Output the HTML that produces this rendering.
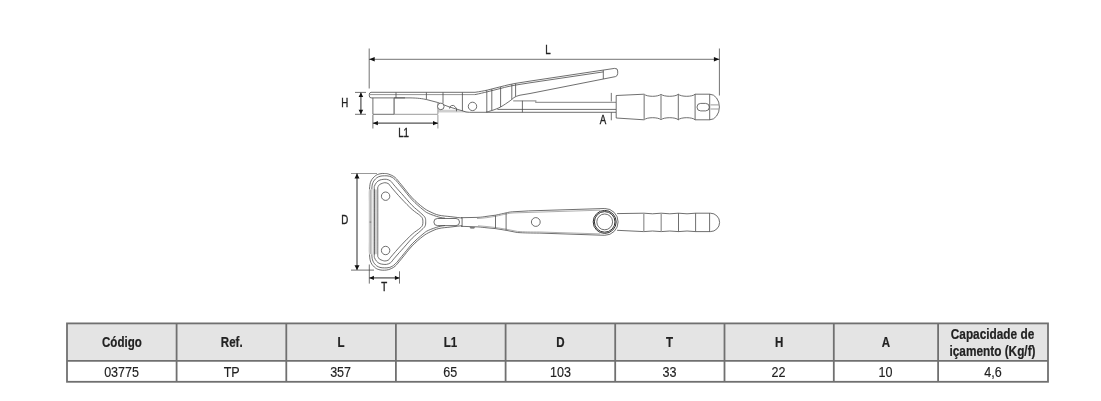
<!DOCTYPE html>
<html><head><meta charset="utf-8">
<style>
html,body{margin:0;padding:0;background:#fff;}
body{width:1101px;height:401px;overflow:hidden;font-family:"Liberation Sans",sans-serif;}
svg{display:block;filter:grayscale(1);}
text{font-family:"Liberation Sans",sans-serif;fill:#222;}
.h{font-weight:bold;font-size:14px;stroke:#222;stroke-width:0.2;}
.d{font-size:14.2px;stroke:#222;stroke-width:0.15;}
.lb{font-size:12px;fill:#222;stroke:#222;stroke-width:0.35;}
.ln{fill:none;stroke:#4a4a4a;stroke-width:0.8;}
.lg{fill:none;stroke:#9a9a9a;stroke-width:1;}
.dm{fill:none;stroke:#444;stroke-width:0.75;}
.dt{fill:none;stroke:#555;stroke-width:1.25;}
.ar{fill:#111;stroke:none;}
</style></head><body>
<svg width="1101" height="401" viewBox="0 0 1101 401">
<rect width="1101" height="401" fill="#fff"/>

<!-- ===== TABLE ===== -->
<g id="table">
<rect x="67" y="323.5" width="981" height="37.5" fill="#e3e4e4"/>
<g stroke="#6f7073" stroke-width="1.8" fill="none">
<rect x="67" y="323.4" width="981" height="58.4"/>
<line x1="67" y1="360.9" x2="1048" y2="360.9"/>
<line x1="176.6" y1="323.4" x2="176.6" y2="381.8"/>
<line x1="286.3" y1="323.4" x2="286.3" y2="381.8"/>
<line x1="395.9" y1="323.4" x2="395.9" y2="381.8"/>
<line x1="505.6" y1="323.4" x2="505.6" y2="381.8"/>
<line x1="615.2" y1="323.4" x2="615.2" y2="381.8"/>
<line x1="724.5" y1="323.4" x2="724.5" y2="381.8"/>
<line x1="833.8" y1="323.4" x2="833.8" y2="381.8"/>
<line x1="938.1" y1="323.4" x2="938.1" y2="381.8"/>
</g>
<g class="h" text-anchor="middle" opacity="0.999">
<text transform="translate(121.9,346.8) scale(0.825,1)">Código</text>
<text transform="translate(231.7,346.8) scale(0.825,1)">Ref.</text>
<text transform="translate(341.1,346.8) scale(0.825,1)">L</text>
<text transform="translate(450.4,346.8) scale(0.825,1)">L1</text>
<text transform="translate(560.4,346.8) scale(0.825,1)">D</text>
<text transform="translate(669.5,346.8) scale(0.825,1)">T</text>
<text transform="translate(779.1,346.8) scale(0.825,1)">H</text>
<text transform="translate(886,346.8) scale(0.825,1)">A</text>
<text transform="translate(992.5,339.1) scale(0.845,1)">Capacidade de</text>
<text transform="translate(992.5,355.5) scale(0.845,1)">içamento (Kg/f)</text>
</g>
<g class="d" text-anchor="middle" opacity="0.999">
<text transform="translate(121.6,376.9) scale(0.885,1)">03775</text>
<text transform="translate(231.7,376.9) scale(0.885,1)">TP</text>
<text transform="translate(340.6,376.9) scale(0.885,1)">357</text>
<text transform="translate(450.2,376.9) scale(0.885,1)">65</text>
<text transform="translate(560.4,376.9) scale(0.885,1)">103</text>
<text transform="translate(669.5,376.9) scale(0.885,1)">33</text>
<text transform="translate(778.5,376.9) scale(0.885,1)">22</text>
<text transform="translate(885.5,376.9) scale(0.885,1)">10</text>
<text transform="translate(993,376.9) scale(0.885,1)">4,6</text>
</g>
</g>

<!-- ===== TOP DRAWING (side view) ===== -->
<g id="side">
<!-- dimension L -->
<line class="dm" x1="369.2" y1="48.5" x2="369.2" y2="88.5"/>
<line class="dm" x1="719.4" y1="48.5" x2="719.4" y2="95.5"/>
<line class="dm" x1="369.2" y1="59.3" x2="719.4" y2="59.3"/>
<path class="ar" d="M369.2 59.3 l5.5 -2.3 v4.6z M719.4 59.3 l-5.5 -2.3 v4.6z"/>
<text class="lb" transform="translate(548,53.5) scale(0.81,1)" text-anchor="middle">L</text>
<!-- dimension H -->
<line class="dm" x1="355" y1="92.4" x2="366" y2="92.4"/>
<line class="dm" x1="355" y1="114.3" x2="366" y2="114.3"/>
<line class="dt" x1="360.9" y1="92.4" x2="360.9" y2="114.3"/>
<path class="ar" d="M360.9 92.6 l-2.3 4.4 h4.6z M360.9 114.2 l-2.3 -4.4 h4.6z"/>
<text class="lb" transform="translate(344.8,107.4) scale(0.81,1)" text-anchor="middle">H</text>
<!-- dimension L1 -->
<line class="dm" x1="372.9" y1="115" x2="372.9" y2="128.5"/>
<line class="lg" x1="437.9" y1="115" x2="437.9" y2="128.5"/>
<line class="dt" x1="372.9" y1="123.2" x2="437.9" y2="123.2"/>
<path class="ar" d="M372.9 123.2 l5 -2.1 v4.2z M438 123.2 l-5 -2.1 v4.2z"/>
<text class="lb" transform="translate(403.6,137.3) scale(0.81,1)" text-anchor="middle">L1</text>
<!-- A -->
<line class="dm" x1="611.3" y1="92.9" x2="611.3" y2="101.5"/>
<line class="dm" x1="611.3" y1="112.3" x2="611.3" y2="120.3"/>
<text class="lb" transform="translate(603.1,123.8) scale(0.81,1)" text-anchor="middle">A</text>

<!-- top plate -->
<path d="M438 109.7 H456 L462.6 111 L470 112.4 H438 Z" fill="#cfcfcf" stroke="none"/>
<path class="ln" d="M475 92.3 H371 Q369.2 92.4 369.2 95 Q369.2 97.9 371 97.9 H405"/>
<path class="ln" d="M370 94.6 H475" style="stroke:#666;stroke-width:0.7"/>
<line class="ln" x1="396" y1="92.4" x2="396" y2="97.9"/>
<line class="ln" x1="426.4" y1="92.4" x2="426.4" y2="99.3"/>
<line class="ln" x1="443" y1="92.4" x2="443" y2="103.5"/>
<line class="ln" x1="462.4" y1="92.4" x2="462.4" y2="111"/>
<!-- lower box -->
<path class="ln" d="M372.9 97.9 V114.3 H394.1"/><path class="lg" d="M394.1 114.3 H437.9 V102.5"/>
<line class="lg" x1="394.1" y1="97.9" x2="394.1" y2="114.3" style="stroke:#777;stroke-width:1.3"/>
<!-- lower contour curve of lever base -->
<path class="ln" d="M394.1 97.9 H410 C418 98 422 98.6 426.7 99.6 L437.4 102.4 L449.2 106.9 L462.6 110.9 C465 111.8 467 112.3 469.4 112.3 H616"/>
<!-- small circles -->
<circle class="ln" cx="440.8" cy="106.4" r="3.3" fill="#fff" style="fill:#fff"/>
<path class="ln" d="M449.6 108.6 A3 3 0 0 1 455 106.6 L456.5 108.5 V111.3"/>
<circle class="ln" cx="472.5" cy="106.4" r="4.2"/>
<!-- lever -->
<path class="ln" d="M475 92.3 C480 91.6 483 91 487.3 90.1 L500.8 86.7 C506 85.3 510 84.4 515.4 83.4 L530 81.1 L614.5 68.4 Q617.9 68.2 617.7 71 V73.5 Q617.6 76 615.5 76.6 L530 93.5 L520 95.2 C514 96.7 513 98.5 510.9 100.2 C507 103 504 105 500.8 106.9 C497 108.8 495 109.5 491.8 110.5 C489 111.4 488 111.7 486.2 112.1"/>
<path class="ln" d="M475 94.6 C480 93.6 483 92.8 487.3 91.8 L500.8 88.4 C506 87 510 86.1 515.4 85.1 L530 82.8 L603.3 71.9"/>
<line class="ln" x1="486.8" y1="90.2" x2="486.8" y2="112"/>
<line class="ln" x1="491.8" y1="89" x2="491.8" y2="110.5"/>
<line class="ln" x1="500.6" y1="86.8" x2="500.6" y2="107"/>
<line class="ln" x1="511.8" y1="84.1" x2="511.8" y2="99.5"/>
<line class="ln" x1="515.6" y1="83.4" x2="515.6" y2="96.5"/>
<line class="ln" x1="603.3" y1="70.2" x2="603.3" y2="79"/>
<!-- rod -->
<line class="ln" x1="497.4" y1="109.4" x2="616" y2="109.4"/>
<path class="lg" d="M513.2 100.8 H535.8 V102.3 H616" style="stroke-width:1.2"/>
<line class="ln" x1="522.4" y1="100.8" x2="522.4" y2="112.3"/>
<!-- grip -->
<path class="ln" d="M616.2 95.5 L644.2 94.2 C646.7 97 658.5 97 661 94.2 C663.5 97 675.8 97 678.3 94.2 C680.8 97 692.6 97 695.1 94.2 H709.7 A9.7 12.8 0 0 1 709.7 119.8 H695.1 C692.6 117 680.8 117 678.3 119.8 C675.8 117 663.5 117 661 119.8 C658.5 117 646.7 117 644.2 119.8 L616.2 118 Z"/>
<line class="lg" x1="644.2" y1="94.2" x2="644.2" y2="119.8" style="stroke-width:1.4"/>
<line class="lg" x1="661" y1="94.2" x2="661" y2="119.8" style="stroke-width:1.4"/>
<line class="ln" x1="678.3" y1="94.2" x2="678.3" y2="119.8"/>
<line class="ln" x1="695.1" y1="94.2" x2="695.1" y2="119.8"/>
<line class="ln" x1="709.7" y1="94.2" x2="709.7" y2="119.8"/>
<rect class="ln" x="697" y="103.4" width="12.3" height="7.5" rx="3.7"/>
<line class="lg" x1="710.5" y1="104.9" x2="719" y2="104.9"/>
<line class="lg" x1="710.5" y1="109" x2="719" y2="109"/>
</g>

<!-- ===== BOTTOM DRAWING (top view) ===== -->
<g id="plan">
<!-- D -->
<line class="dm" x1="351" y1="173.5" x2="377" y2="173.5" style="stroke:#777"/>
<line class="dm" x1="351" y1="270.1" x2="374" y2="270.1"/>
<line class="dt" x1="357" y1="173.3" x2="357" y2="270"/>
<path class="ar" d="M357 173.6 l-2.5 4.8 h5z M357 270.1 l-2.5 -4.8 h5z"/>
<text class="lb" transform="translate(344.8,224.3) scale(0.81,1)" text-anchor="middle">D</text>
<!-- T -->
<line class="dm" x1="369.3" y1="264.5" x2="369.3" y2="283.6"/>
<line class="dm" x1="399.5" y1="271.3" x2="399.5" y2="283.6"/>
<line class="dt" x1="369.2" y1="277.9" x2="399.5" y2="277.9"/>
<path class="ar" d="M369.3 277.9 l4.6 -2.2 v4.4z M399.5 277.9 l-4.6 -2.2 v4.4z"/>
<text class="lb" transform="translate(384.2,291) scale(0.81,1)" text-anchor="middle">T</text>

<!-- head outer -->
<path class="ln" d="M462.0 218.0 C460.1 217.8 454.8 217.2 450.9 216.7 C447.0 216.2 442.4 216.0 438.9 215.2 C435.4 214.4 432.7 213.0 430.0 211.7 C427.3 210.4 425.9 209.7 422.9 207.4 C419.9 205.1 415.8 201.6 412.2 197.8 C408.6 194.1 404.4 188.3 401.5 184.9 C398.6 181.5 397.1 179.2 395.0 177.4 C392.9 175.6 390.4 174.8 388.6 174.1 C386.8 173.4 385.8 173.6 384.4 173.5 C383.0 173.4 381.5 173.4 380.0 173.8 C378.5 174.2 377.0 174.5 375.5 175.7 C374.0 176.9 372.0 178.8 371.0 181.0 C370.0 183.2 369.8 185.2 369.5 189.2 C369.2 193.2 369.4 196.8 369.4 205.0 C369.4 213.2 369.4 230.4 369.4 238.7 C369.4 246.9 369.2 250.5 369.5 254.5 C369.8 258.5 370.0 260.4 371.0 262.7 C372.0 264.9 374.0 266.8 375.5 268.0 C377.0 269.2 378.5 269.5 380.0 269.9 C381.5 270.3 383.0 270.2 384.4 270.2 C385.8 270.1 386.8 270.2 388.6 269.6 C390.4 269.0 392.9 268.1 395.0 266.3 C397.1 264.5 398.6 262.2 401.5 258.8 C404.4 255.4 408.6 249.6 412.2 245.9 C415.8 242.1 419.9 238.6 422.9 236.3 C425.9 234.0 427.3 233.3 430.0 232.0 C432.7 230.7 435.4 229.3 438.9 228.5 C442.4 227.7 447.0 227.5 450.9 227.0 C454.8 226.5 460.1 225.9 462.0 225.7"/>
<path class="ln" d="M445.0 218.2 C444.0 218.0 441.7 217.9 438.9 217.1 C436.1 216.3 431.0 214.6 428.3 213.3 C425.6 212.1 425.6 211.8 422.9 209.6 C420.2 207.4 415.8 203.7 412.2 199.9 C408.6 196.1 404.4 190.4 401.5 187.0 C398.6 183.6 397.0 181.3 395.0 179.5 C393.0 177.7 391.5 176.9 389.7 176.3 C387.9 175.7 386.0 175.8 384.4 175.8 C382.8 175.8 381.3 175.9 380.0 176.3 C378.7 176.7 377.7 177.0 376.5 178.0 C375.3 179.0 373.8 180.6 373.0 182.5 C372.2 184.4 372.0 185.4 371.8 189.2 C371.6 192.9 371.7 196.8 371.7 205.0 C371.7 213.2 371.7 230.4 371.7 238.7 C371.7 246.9 371.6 250.8 371.8 254.5 C372.0 258.2 372.2 259.3 373.0 261.2 C373.8 263.1 375.3 264.7 376.5 265.7 C377.7 266.7 378.7 267.0 380.0 267.4 C381.3 267.8 382.8 267.9 384.4 267.9 C386.0 267.9 387.9 268.0 389.7 267.4 C391.5 266.8 393.0 266.0 395.0 264.2 C397.0 262.4 398.6 260.1 401.5 256.7 C404.4 253.3 408.6 247.6 412.2 243.8 C415.8 240.0 420.2 236.3 422.9 234.1 C425.6 231.9 425.6 231.6 428.3 230.4 C431.0 229.1 436.1 227.4 438.9 226.6 C441.7 225.8 444.0 225.7 445.0 225.5"/>
<path class="ln" d="M425.7 221.8 C425.7 220.3 425.8 218.8 424.9 217.3 C424.0 215.8 422.6 214.8 420.5 212.8 C418.4 210.8 415.4 208.7 412.2 205.5 C409.0 202.3 404.6 196.9 401.5 193.5 C398.4 190.1 395.7 187.0 393.9 184.9 C392.1 182.8 391.9 182.0 390.7 181.1 C389.4 180.2 388.2 179.5 386.4 179.3 C384.6 179.1 381.6 179.5 380.0 180.0 C378.4 180.5 377.4 181.5 376.5 182.5 C375.6 183.5 374.9 184.9 374.5 186.0 C374.1 187.1 374.3 186.0 374.3 189.2 C374.3 192.4 374.3 196.8 374.3 205.0 C374.3 213.2 374.3 230.4 374.3 238.7 C374.3 246.9 374.3 251.3 374.3 254.5 C374.3 257.7 374.1 256.6 374.5 257.7 C374.9 258.8 375.6 260.2 376.5 261.2 C377.4 262.2 378.4 263.2 380.0 263.7 C381.6 264.2 384.6 264.6 386.4 264.4 C388.2 264.2 389.4 263.5 390.7 262.6 C391.9 261.7 392.1 260.9 393.9 258.8 C395.7 256.7 398.4 253.6 401.5 250.2 C404.6 246.8 409.0 241.4 412.2 238.2 C415.4 235.0 418.4 232.9 420.5 230.9 C422.6 228.9 424.0 227.9 424.9 226.4 C425.8 224.9 425.7 223.4 425.7 221.8 Z"/>
<path class="ln" d="M422.9 221.8 C422.9 220.7 422.9 219.4 422.4 218.3 C421.9 217.2 421.5 216.8 419.8 215.3 C418.1 213.8 415.2 212.2 412.2 209.5 C409.1 206.8 405.1 202.6 401.5 198.8 C397.9 195.0 392.8 189.0 390.7 186.5 C388.6 184.0 389.6 184.4 388.6 183.8 C387.6 183.2 386.2 182.6 384.8 182.7 C383.4 182.8 381.1 183.7 380.0 184.3 C378.9 184.9 378.6 185.7 378.2 186.5 C377.8 187.3 377.8 186.1 377.7 189.2 C377.6 192.3 377.7 196.8 377.7 205.0 C377.7 213.2 377.7 230.4 377.7 238.7 C377.7 246.9 377.6 251.4 377.7 254.5 C377.8 257.6 377.8 256.4 378.2 257.2 C378.6 258.0 378.9 258.8 380.0 259.4 C381.1 260.0 383.4 260.9 384.8 261.0 C386.2 261.1 387.6 260.5 388.6 259.9 C389.6 259.3 388.6 259.7 390.7 257.2 C392.8 254.7 397.9 248.7 401.5 244.9 C405.1 241.1 409.1 236.9 412.2 234.2 C415.2 231.4 418.1 229.9 419.8 228.4 C421.5 226.9 421.9 226.5 422.4 225.4 C422.9 224.3 422.9 223.0 422.9 221.8 Z"/>
<circle class="ln" cx="385.6" cy="196.2" r="4.2"/>
<circle class="ln" cx="385.6" cy="250.5" r="4.2"/>
<rect x="368.8" y="189.5" width="3.4" height="64.7" fill="#fff"/>
<rect x="369.3" y="189.5" width="2.4" height="64.7" fill="#b4b4b4"/>
<rect x="374.7" y="189.5" width="3" height="64.7" fill="#d0d0d0"/>
<line class="ln" x1="374.3" y1="189.2" x2="374.3" y2="254.5"/>
<line class="lg" x1="377.7" y1="189.2" x2="377.7" y2="254.5" style="stroke:#888;stroke-width:0.8"/>
<rect x="369.6" y="221.4" width="1.6" height="1.4" fill="#888"/>
<!-- neck slot -->
<rect class="ln" x="433.9" y="218.5" width="25.6" height="7.1" rx="3.5"/>
<line class="ln" x1="462.1" y1="217.5" x2="462.1" y2="226.8"/>
<!-- neck + body -->
<path class="ln" d="M461 217.7 L477 217.4 C482 217.2 484 216.8 487 216.3 L495.5 215.2 C500 214.3 503 213.5 506.1 212.9 C508 212.3 510 212 512.8 211.8 L528.6 210.9 L604.7 208.5"/>
<path class="ln" d="M461 226.3 L478 226.9 C482 227.2 484 227.5 487 227.8 L495.5 228.6 L506.1 230.3 L517.3 232.5 C525 233 530 233 539.8 233.1 L604.7 235.3"/>
<path class="lg" d="M477 218.5 C484 218.2 490 217.2 495.5 216.3 C500 215.4 503 214.6 506.1 214 C509 213.2 511 213 514 212.9 L600 210.2" style="stroke-width:0.8"/>
<path class="lg" d="M478 225.8 C484 226.2 490 226.8 495.5 227.5 L506.1 229.2 L517.3 231.4 C525 231.9 530 232 539.8 232 L600 233.9" style="stroke-width:0.8"/>
<line class="ln" x1="495.5" y1="215.4" x2="495.5" y2="228.4"/>
<line class="ln" x1="506.1" y1="212.9" x2="506.1" y2="230.3"/>
<circle class="ln" cx="535.8" cy="222" r="4.4"/>
<path d="M469.5 227.2 h5.6 l-1 1.2 h-3.6z" fill="#555" stroke="none"/>
<!-- ring -->
<circle cx="604.7" cy="221.9" r="12" fill="#fff" stroke="none"/>
<circle class="ln" cx="604.7" cy="221.9" r="11.5" style="stroke:#333;stroke-width:1"/>
<circle class="ln" cx="604.7" cy="221.9" r="10.3" style="stroke:#333;stroke-width:1"/>
<circle class="ln" cx="604.7" cy="221.9" r="7.9"/>
<path class="ln" d="M604.7 208.5 A13.4 13.4 0 0 1 604.7 235.3"/>
<!-- grip -->
<path class="ln" d="M617.1 213.6 L643.8 213.2 Q652.5 214.4 661.2 213.2 Q669.8 214.4 678.5 213.2 Q687 214.4 695.6 213.2 H710.4 A9.2 9.2 0 0 1 710.4 231.6 H695.6 Q687 230.4 678.5 231.6 Q669.8 230.4 661.2 231.6 Q652.5 230.4 643.8 231.6 L617.1 230.3"/>
<line class="lg" x1="643.8" y1="213.2" x2="643.8" y2="231.6" style="stroke-width:1.3"/>
<line class="lg" x1="661.2" y1="213.2" x2="661.2" y2="231.6" style="stroke-width:1.3"/>
<line class="ln" x1="678.5" y1="213.2" x2="678.5" y2="231.6"/>
<line class="ln" x1="695.6" y1="213.2" x2="695.6" y2="231.6"/>
<line class="ln" x1="709.6" y1="213.2" x2="709.6" y2="231.6"/>
</g>
</svg>
</body></html>
